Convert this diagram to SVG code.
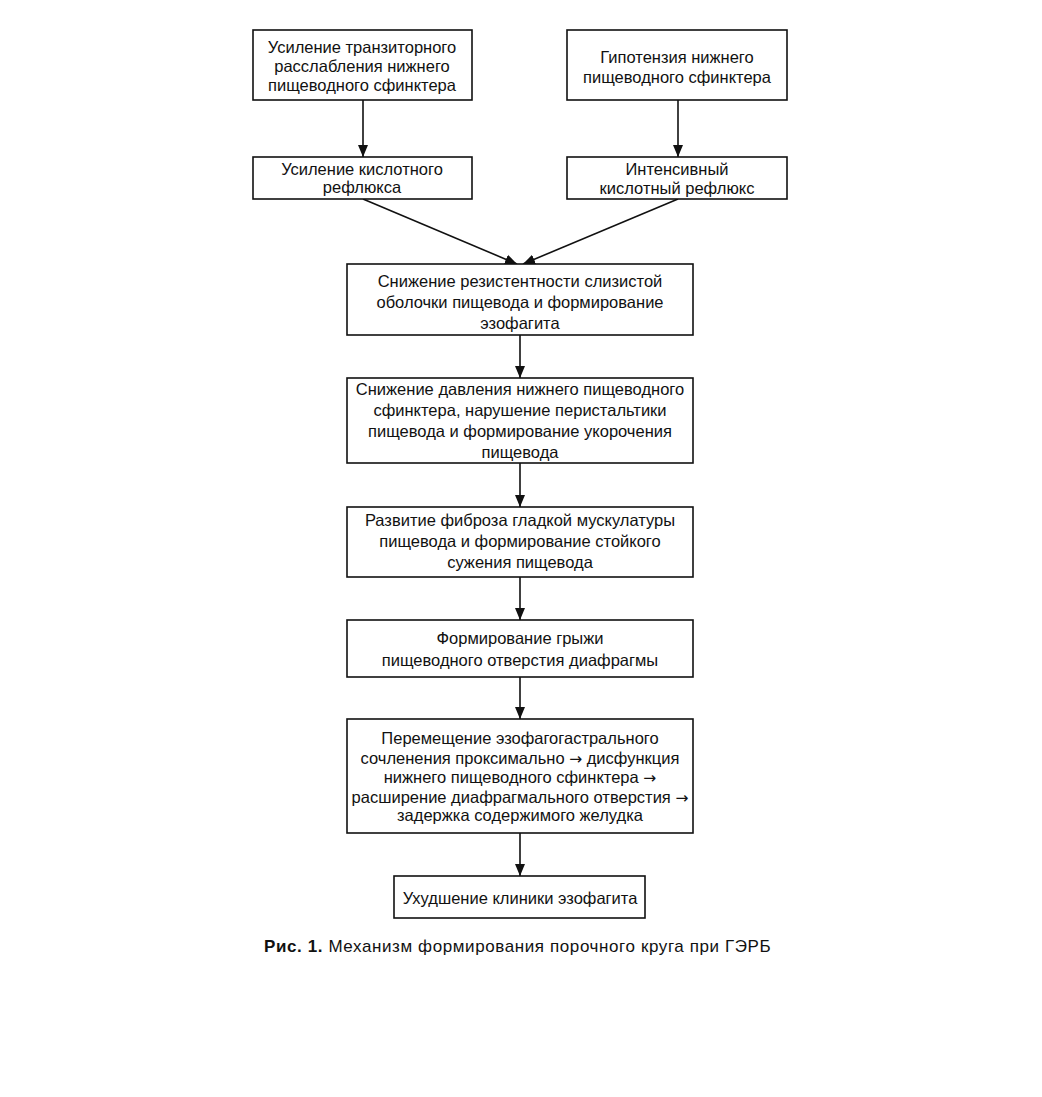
<svg xmlns="http://www.w3.org/2000/svg" width="1042" height="1097" viewBox="0 0 1042 1097">
<defs>
<marker id="ah" markerWidth="12" markerHeight="12" refX="12" refY="6" orient="auto" markerUnits="userSpaceOnUse">
<path d="M0,1 L12,6 L0,11 Z" fill="#111"/>
</marker>
<style>
.box{fill:#fff;stroke:#111;stroke-width:1.6}
.t{font-family:"Liberation Sans",Arial,sans-serif;font-size:16.5px;fill:#111;text-anchor:middle}
.c{stroke:#111;stroke-width:1.6;fill:none;marker-end:url(#ah)}
.cap{font-family:"Liberation Sans",Arial,sans-serif;font-size:17px;letter-spacing:0.6px;fill:#111}
.ar{font-family:"DejaVu Sans",sans-serif;font-size:15.5px}
</style>
</defs>
<rect width="1042" height="1097" fill="#fff"/>
<g id="connectors">
<line class="c" x1="363" y1="100" x2="363" y2="157"/>
<line class="c" x1="678" y1="100" x2="678" y2="157"/>
<line class="c" x1="363" y1="199" x2="517" y2="264"/>
<line class="c" x1="678" y1="199" x2="523" y2="264"/>
<line class="c" x1="520" y1="335" x2="520" y2="378"/>
<line class="c" x1="520" y1="463" x2="520" y2="507"/>
<line class="c" x1="520" y1="577" x2="520" y2="620"/>
<line class="c" x1="520" y1="677" x2="520" y2="719"/>
<line class="c" x1="520" y1="833" x2="520" y2="876"/>
</g>
<g id="n1"><rect class="box" x="253" y="30" width="219" height="70"/>
<text class="t"><tspan x="362" y="53">Усиление транзиторного</tspan><tspan x="362" y="72">расслабления нижнего</tspan><tspan x="362" y="91">пищеводного сфинктера</tspan></text></g>
<g id="n2"><rect class="box" x="567" y="30" width="220" height="70"/>
<text class="t"><tspan x="677" y="63">Гипотензия нижнего</tspan><tspan x="677" y="83">пищеводного сфинктера</tspan></text></g>
<g id="n3"><rect class="box" x="253" y="157" width="219" height="42"/>
<text class="t"><tspan x="362" y="175">Усиление кислотного</tspan><tspan x="362" y="193">рефлюкса</tspan></text></g>
<g id="n4"><rect class="box" x="567" y="157" width="220" height="42"/>
<text class="t"><tspan x="677" y="175">Интенсивный</tspan><tspan x="677" y="194">кислотный рефлюкс</tspan></text></g>
<g id="n5"><rect class="box" x="347" y="264" width="346" height="71"/>
<text class="t"><tspan x="520" y="287">Снижение резистентности слизистой</tspan><tspan x="520" y="308">оболочки пищевода и формирование</tspan><tspan x="520" y="329">эзофагита</tspan></text></g>
<g id="n6"><rect class="box" x="347" y="378" width="346" height="85"/>
<text class="t"><tspan x="520" y="395">Снижение давления нижнего пищеводного</tspan><tspan x="520" y="416">сфинктера, нарушение перистальтики</tspan><tspan x="520" y="437">пищевода и формирование укорочения</tspan><tspan x="520" y="458">пищевода</tspan></text></g>
<g id="n7"><rect class="box" x="347" y="507" width="346" height="70"/>
<text class="t"><tspan x="520" y="526">Развитие фиброза гладкой мускулатуры</tspan><tspan x="520" y="547">пищевода и формирование стойкого</tspan><tspan x="520" y="568">сужения пищевода</tspan></text></g>
<g id="n8"><rect class="box" x="347" y="620" width="346" height="57"/>
<text class="t"><tspan x="520" y="644">Формирование грыжи</tspan><tspan x="520" y="666">пищеводного отверстия диафрагмы</tspan></text></g>
<g id="n9"><rect class="box" x="347" y="719" width="346" height="114"/>
<text class="t"><tspan x="520" y="744">Перемещение эзофагогастрального</tspan><tspan x="520" y="764">сочленения проксимально <tspan class="ar">→</tspan> дисфункция</tspan><tspan x="520" y="783">нижнего пищеводного сфинктера <tspan class="ar">→</tspan></tspan><tspan x="520" y="803">расширение диафрагмального отверстия <tspan class="ar">→</tspan></tspan><tspan x="520" y="821">задержка содержимого желудка</tspan></text></g>
<g id="n10"><rect class="box" x="394" y="876" width="251" height="42"/>
<text class="t"><tspan x="520" y="904">Ухудшение клиники эзофагита</tspan></text></g>
<text class="cap" x="264" y="952"><tspan font-weight="bold">Рис. 1.</tspan> Механизм формирования порочного круга при ГЭРБ</text>
</svg>
